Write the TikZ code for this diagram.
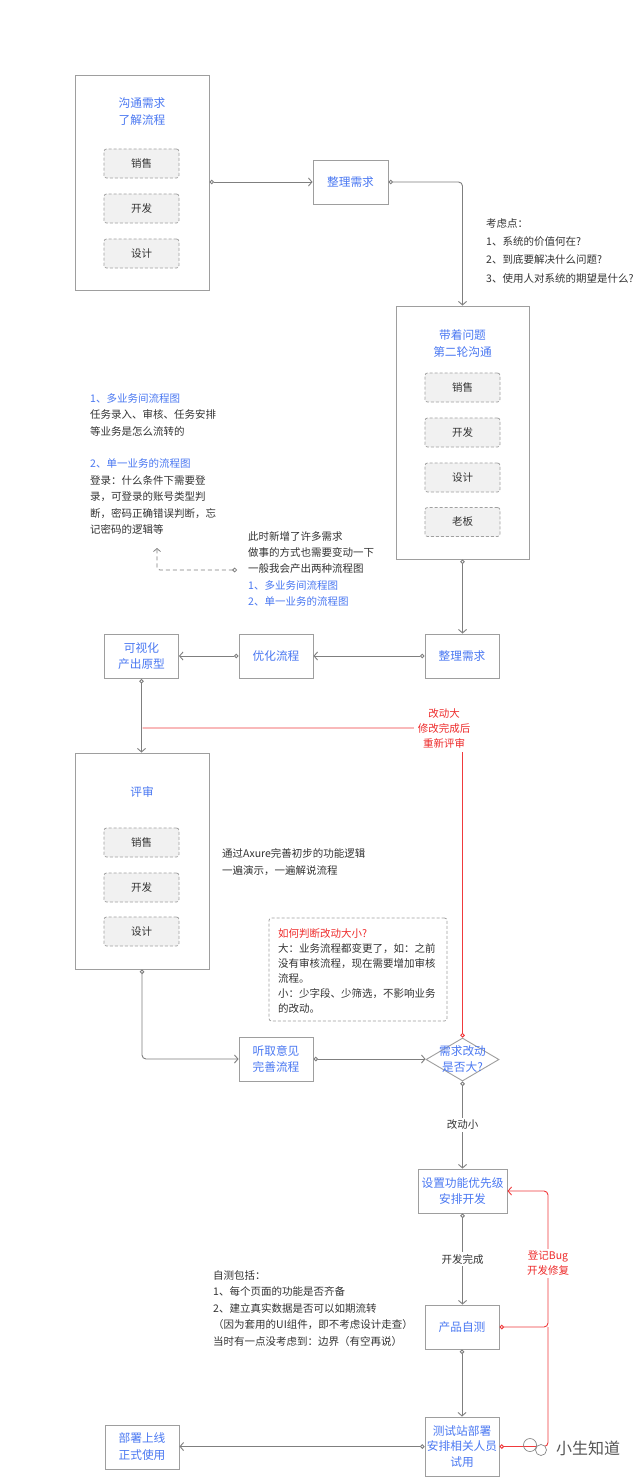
\documentclass[tikz,border=0pt]{standalone}
\usepackage{fontspec}
\setmainfont{Noto Sans CJK SC}
\usetikzlibrary{arrows.meta,shapes.geometric}
\definecolor{blu}{HTML}{4A78F2}
\definecolor{txt}{HTML}{333333}
\definecolor{linec}{HTML}{7F7F7F}
\definecolor{boxc}{HTML}{9E9E9E}
\definecolor{dashc}{HTML}{A0A0A0}
\definecolor{innerc}{HTML}{F1F1F1}
\definecolor{redc}{HTML}{F03A3C}
\definecolor{redt}{HTML}{EE2B2B}
\definecolor{wmc}{HTML}{555555}
\tikzset{
 frame/.style={draw=boxc, line width=0.9pt, fill=white, inner sep=0pt},
 pbox/.style={frame, minimum width=74pt, minimum height=44pt, text=blu, font=\fontsize{11.7}{16.5}\selectfont, align=center},
 inbox/.style={draw=dashc, line width=0.8pt, dash pattern=on 3pt off 2pt, fill=innerc, rounded corners=2.5pt, minimum width=75pt, minimum height=29pt, inner sep=0pt, text=txt, font=\fontsize{10.5}{12}\selectfont},
 ttl/.style={text=blu, font=\fontsize{11.7}{17}\selectfont, align=center, inner sep=0pt},
 note/.style={text=txt, align=left, inner sep=0pt, anchor=north west},
 lbl/.style={fill=white, text=txt, font=\fontsize{10.5}{12}\selectfont, inner sep=2pt},
 rlbl/.style={fill=white, text=redt, font=\fontsize{10.5}{15}\selectfont, align=center, inner sep=4pt},
 conn/.style={draw=linec, line width=0.9pt, {Circle[length=4.6pt,fill=white]}-{Straight Barb[length=3.5pt,width=8pt]}},
 rconn/.style={draw=redc, line width=0.9pt, {Circle[length=4.6pt,fill=white]}-{Straight Barb[length=3.5pt,width=8pt]}},
 rline/.style={draw=redc, line width=0.9pt, {Circle[length=4.6pt,fill=white]}-},
}
\begin{document}
\begin{tikzpicture}[x=1pt,y=-1pt]
\path[use as bounding box, fill=white] (0,0) rectangle (640,1477);

% ---- box 1
\node[frame, minimum width=134pt, minimum height=215pt] (b1) at (142,182.5) {};
\node[ttl] (b1t) at (142,112) {沟通需求\\了解流程};
\node[inbox] (b1s) at (141.5,163.5) {销售};
\node[inbox] (b1d) at (141.5,208.5) {开发};
\node[inbox] (b1g) at (141.5,253.5) {设计};

\node[pbox, minimum width=75pt] (r1) at (350.5,182) {整理需求};

% ---- box 2
\node[frame, minimum width=133pt, minimum height=253pt] (b2) at (462.5,432.5) {};
\node[ttl] (b2t) at (462.5,343.5) {带着问题\\第二轮沟通};
\node[inbox] (b2s) at (462.5,387.5) {销售};
\node[inbox] (b2d) at (462.5,432.5) {开发};
\node[inbox] (b2g) at (462.5,477.5) {设计};
\node[inbox] (b2b) at (462.5,522) {老板};

\node[pbox] (r2) at (462,656) {整理需求};
\node[pbox] (opt) at (276,656) {优化流程};
\node[pbox, font=\fontsize{11.7}{16}\selectfont] (vis) at (141.5,656.5) {可视化\\产出原型};

% ---- review box
\node[frame, minimum width=134pt, minimum height=216pt] (rev) at (142,861) {};
\node[ttl] (revt) at (142,792) {评审};
\node[inbox] (revs) at (141.5,842.5) {销售};
\node[inbox] (revd) at (141.5,887.5) {开发};
\node[inbox] (revg) at (141.5,931.5) {设计};

\node[pbox] (hear) at (276,1059) {听取意见\\完善流程};
\node[diamond, draw=boxc, line width=0.9pt, fill=white, minimum width=73pt, minimum height=43pt, inner sep=0pt] (dia) at (462.5,1059.5) {};
\node[ttl, font=\fontsize{11.7}{16}\selectfont] (diat) at (dia) {需求改动\\是否大?};

\node[pbox, minimum width=89pt, font=\fontsize{11.7}{16}\selectfont] (set) at (462.5,1191) {设置功能优先级\\安排开发};
\node[pbox] (self) at (462,1327) {产品自测};
\node[pbox, minimum height=59pt, font=\fontsize{11.7}{15.5}\selectfont] (test) at (462,1446.5) {测试站部署\\安排相关人员\\试用};
\node[pbox, font=\fontsize{11.7}{17}\selectfont] (dep) at (142,1447) {部署上线\\正式使用};

% ---- notes
\node[note, font=\fontsize{10.5}{18.3}\selectfont] (cons) at (486,218.3) {考虑点：\\1、系统的价值何在?\\2、到底要解决什么问题?\\3、使用人对系统的期望是什么?};
\node[note, font=\fontsize{10.5}{16.4}\selectfont] (left) at (90,393.3) {{\color{blu}1、多业务间流程图}\\任务录入、审核、任务安排\\等业务是怎么流转的\\[16.4pt]{\color{blu}2、单一业务的流程图}\\登录：什么条件下需要登\\录，可登录的账号类型判\\断，密码正确错误判断，忘\\记密码的逻辑等};
\node[note, font=\fontsize{10.5}{16.3}\selectfont] (more) at (248,531.3) {此时新增了许多需求\\做事的方式也需要变动一下\\一般我会产出两种流程图\\{\color{blu}1、多业务间流程图}\\{\color{blu}2、单一业务的流程图}};
\node[note, font=\fontsize{10.5}{17}\selectfont] (axure) at (222,848.3) {通过Axure完善初步的功能逻辑\\一遍演示，一遍解说流程};
\node[draw=dashc, line width=0.8pt, dash pattern=on 3pt off 2pt, rounded corners=2.5pt, minimum width=178pt, minimum height=103pt, inner sep=0pt] (nbox) at (358,969.5) {};
\node[note, font=\fontsize{10.5}{15}\selectfont] (ntext) at (278,928.3) {{\color{redt}如何判断改动大小?}\\大：业务流程都变更了，如：之前\\没有审核流程，现在需要增加审核\\流程。\\小：少字段、少筛选，不影响业务\\的改动。};
\node[note, font=\fontsize{10.5}{16.5}\selectfont] (selft) at (213,1270.3) {自测包括：\\1、每个页面的功能是否齐备\\2、建立真实数据是否可以如期流转\\（因为套用的UI组件，即不考虑设计走查）\\当时有一点没考虑到：边界（有空再说）};

% ---- connectors
\draw[conn] (b1.east |- r1.west) -- (r1.west);
\draw[conn, rounded corners=4pt] (r1.east) -| (b2.north);
\draw[conn] (b2.south) -- (b2.south |- r2.north);
\draw[conn] (r2.west) -- (opt.east);
\draw[conn] (opt.west) -- (opt.west -| vis.east);
\draw[conn] (vis.south) -- (vis.south |- rev.north);
\draw[conn, rounded corners=4pt] (rev.south) |- (hear.west);
\draw[conn] (hear.east) -- (hear.east -| dia.west);
\draw[conn] (dia.south) -- node[lbl] (small) {改动小} (dia.south |- set.north);
\draw[conn] (set.south) -- node[lbl] (done) {开发完成} (set.south |- self.north);
\draw[conn] (self.south) -- (self.south |- test.north);
\draw[conn] (test.west) -- (test.west -| dep.east);

\coordinate (dA) at (237,570);
\coordinate (dB) at (157,548);
\draw[draw=linec, line width=0.8pt, dash pattern=on 4pt off 3pt, rounded corners=3pt, {Circle[length=4.6pt,fill=white]}-{Straight Barb[length=3pt,width=7pt]}] (dA) -| (dB);

% ---- red connectors
\coordinate (rvtop) at (462.5,728);
\coordinate (rvleft) at (142.5,728);
\draw[rline, rounded corners=4pt] (dia.north) -- (rvtop) -- (rvleft);
\node[rlbl] (big) at (444,728) {改动大\\修改完成后\\重新评审};

\coordinate (bugx) at (548,1191);
\coordinate (bugy) at (548,1327);
\draw[rconn, rounded corners=4pt] (self.east) -| (bugx) -- (set.east);
\draw[rline, rounded corners=4pt] (test.east) -| (bugy);
\node[rlbl, inner sep=2pt] (bug) at (548,1263.5) {登记Bug\\开发修复};

% ---- watermark
\draw[wmc!70, line width=0.7pt] (530,1445) circle (6.5);
\draw[wmc!70, line width=0.7pt, fill=white] (541,1450) circle (5.5);
\node[text=wmc, font=\fontsize{16}{16}\selectfont, inner sep=0pt] (wm) at (588,1448) {小生知道};
\end{tikzpicture}
\end{document}
